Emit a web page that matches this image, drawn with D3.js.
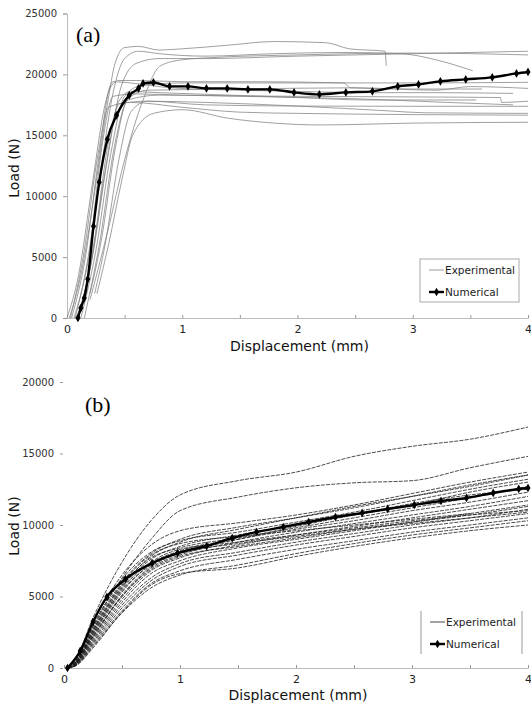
<!DOCTYPE html>
<html>
<head>
<meta charset="utf-8">
<script src="https://cdn.jsdelivr.net/npm/d3@7"></script>
<style>
  body { margin: 0; background: #fff; }
  text { font-family: "DejaVu Sans", Verdana, sans-serif; }
</style>
</head>
<body>
<div id="chart"></div>
<script>
// ---- data (a) ----
var topNumD = [0.095, 0.12, 0.15, 0.18, 0.23, 0.28, 0.35, 0.43, 0.54, 0.62, 0.66, 0.75, 0.89, 1.05, 1.21, 1.39, 1.57, 1.76, 1.97, 2.19, 2.42, 2.65, 2.87, 3.05, 3.24, 3.46, 3.69, 3.9, 4.0];
var topNumLoad = [0, 820, 1640, 3200, 7540, 11150, 14670, 16640, 18280, 18850, 19260, 19340, 19020, 19020, 18850, 18850, 18770, 18770, 18520, 18360, 18520, 18610, 19020, 19180, 19430, 19590, 19760, 20080, 20200];

var topExperimental = [
  [[0.02,0],[0.12,3500],[0.25,11000],[0.35,17500],[0.42,21000],[0.5,22200],[0.62,22300],[0.8,22000],[1.0,22100],[1.4,22400],[1.8,22700],[2.25,22600],[2.45,22100],[2.76,21900],[2.77,20700]],
  [[0.06,0],[0.18,4500],[0.3,12500],[0.4,18500],[0.5,21300],[0.62,21900],[0.8,21700],[1.2,21500],[1.8,21700],[2.4,21800],[2.9,21700],[3.2,21200],[3.52,20300]],
  [[0.2,1500],[0.35,7000],[0.5,13000],[0.66,17900],[0.81,20700],[1.0,21200],[1.3,21400],[2.0,21600],[3.0,21750],[4.0,21600]],
  [[0.1,0],[0.22,5000],[0.35,13000],[0.47,19000],[0.6,20900],[0.8,21300],[1.2,21300],[2.0,21500],[3.0,21700],[4.0,21900]],
  [[0.04,0],[0.16,5000],[0.28,13500],[0.37,18800],[0.45,19500],[0.6,19500],[1.0,19400],[1.6,19400],[2.4,19300],[2.46,18900],[3.0,18800],[3.6,18800]],
  [[0.12,0],[0.25,5500],[0.38,13500],[0.5,18200],[0.65,19100],[1.0,19300],[2.0,19300],[3.0,19300],[4.0,19350]],
  [[0.2,2000],[0.3,6500],[0.42,14000],[0.53,18000],[0.7,18700],[1.5,18800],[2.5,18900],[3.2,18700],[3.5,19000],[4.0,18850]],
  [[0.07,0],[0.2,6000],[0.31,14500],[0.4,18200],[0.6,18400],[1.0,18300],[2.0,18200],[3.0,18150],[3.76,18100],[3.77,17700],[4.0,17800]],
  [[0.15,0],[0.28,6000],[0.42,14500],[0.53,17900],[0.8,18300],[1.5,18200],[2.5,18000],[3.3,17700],[3.87,17500]],
  [[0.1,0],[0.24,6500],[0.36,14500],[0.46,17600],[0.7,17800],[1.2,17500],[2.0,17400],[3.0,17380],[4.0,17380]],
  [[0.24,2000],[0.33,6000],[0.45,13000],[0.56,17000],[0.7,17800],[1.2,17700],[2.0,17400],[2.8,17000],[3.1,16850],[4.0,16800]],
  [[0.03,0],[0.14,5000],[0.27,13500],[0.36,17300],[0.55,17700],[1.0,17300],[1.5,16900],[2.0,16800],[3.0,16700],[4.0,16650]],
  [[0.26,2000],[0.36,6000],[0.48,11500],[0.57,15000],[0.75,16800],[1.0,17100],[1.4,16400],[1.8,16000],[2.2,15850],[3.0,16000],[4.0,16070]],
  [[0.0,0],[0.1,3500],[0.22,11000],[0.33,17500],[0.4,19400],[0.55,19300],[0.9,18900],[1.5,18700],[2.0,18600],[2.6,18500],[3.2,18500],[3.87,18440]],
  [[0.08,0],[0.2,4000],[0.33,12000],[0.45,17800],[0.55,18600],[0.8,18500],[1.4,18300],[2.0,18100],[2.6,17900],[3.0,17900],[3.55,17900]]
];

// ---- data (b) ----
var botNumD = [0.03, 0.14, 0.25, 0.37, 0.53, 0.76, 0.98, 1.23, 1.45, 1.66, 1.89, 2.11, 2.34, 2.57, 2.79, 3.02, 3.25, 3.47, 3.7, 3.92, 4.0];
var botNumLoad = [0, 1190, 3220, 4970, 6220, 7340, 8040, 8530, 9090, 9510, 9860, 10210, 10560, 10840, 11120, 11400, 11680, 11890, 12240, 12520, 12590];

var botExpD = [0.04, 0.1, 0.25, 0.5, 0.75, 1.0, 1.5, 2.0, 2.5, 3.0, 3.5, 4.0];
var botExpLoad = [
  [0, 600, 3500, 7400, 10300, 12100, 13100, 13700, 14800, 15500, 16000, 16850],
  [0, 500, 3000, 6300, 9000, 11000, 11950, 12600, 12950, 13100, 14000, 14800],
  [0, 500, 3200, 6500, 8600, 9600, 10150, 10700, 11400, 12200, 13000, 13700],
  [0, 400, 2800, 6000, 8000, 9000, 9850, 10500, 11200, 12000, 12800, 13500],
  [0, 450, 2900, 6200, 8100, 8900, 9500, 10200, 10900, 11700, 12500, 13200],
  [0, 350, 2500, 5600, 7600, 8500, 9300, 10000, 10700, 11400, 12300, 13000],
  [0, 400, 2700, 5800, 7700, 8400, 9100, 9800, 10500, 11200, 11900, 12700],
  [0, 300, 2300, 5300, 7300, 8200, 9000, 9700, 10300, 11000, 11600, 12300],
  [0, 300, 2200, 5000, 7000, 7900, 8800, 9500, 10100, 10700, 11300, 12000],
  [0, 250, 2000, 4800, 6800, 7700, 8600, 9300, 9900, 10500, 11100, 11700],
  [0, 250, 1900, 4600, 6600, 7500, 8400, 9000, 9600, 10200, 10800, 11400],
  [0, 200, 1800, 4400, 6300, 7300, 8100, 8800, 9400, 10000, 10500, 11100],
  [0, 200, 1700, 4200, 6100, 7100, 7900, 8600, 9200, 9800, 10300, 10800],
  [0, 200, 1600, 4000, 5900, 6800, 7600, 8300, 8900, 9500, 10000, 10500],
  [0, 150, 1500, 3850, 5600, 6500, 7200, 8000, 8700, 9300, 9800, 10300],
  [0, 150, 1400, 3900, 5800, 6600, 7000, 7800, 8500, 9100, 9600, 10000],
  [0, 350, 2600, 5900, 7900, 8700, 9200, 9600, 10000, 10400, 10800],
  [0, 300, 2400, 5500, 7400, 8300, 8800, 9300, 9800, 10300, 10700, 11000],
  [0, 400, 2600, 5700, 7800, 8800, 9700, 10500, 11300, 12000, 12700, 13500],
  [0, 300, 2200, 5100, 7100, 8000, 8700, 9200, 9700, 10100, 10500, 10900],
  [0, 250, 2100, 5000, 6900, 7800, 8500, 9100, 9700, 10200, 10700, 11300],
  [0, 350, 2400, 5400, 7200, 8100, 9000, 9900, 10700, 11500, 12100, 12500]
];

var xTicks = [0, 0.5, 1, 1.5, 2, 2.5, 3, 3.5, 4];
var topYTicks = [0, 5000, 10000, 15000, 20000, 25000];
var botYTicks = [0, 5000, 10000, 15000, 20000];
var legendLabels = ["Experimental", "Numerical"];

var svg = d3.select("#chart").append("svg")
    .attr("width", 531)
    .attr("height", 705)
    .style("background", "#fff");

function drawPanel(opt) {
    var x = d3.scaleLinear().domain([0, 4]).range([opt.x0, opt.x1]);
    var y = d3.scaleLinear().domain([0, opt.yMax]).range([opt.y0, opt.y1]);
    var g = svg.append("g");

    // y axis
    var ya = g.append("g")
        .attr("transform", "translate(" + (opt.x0 + opt.yAxisShift) + ",0)")
        .call(d3.axisLeft(y).tickValues(opt.yTicks).tickSize(opt.yTickSize).tickPadding(opt.yPad).tickFormat(d3.format("d")));
    ya.select(".domain").attr("stroke", opt.showYLine ? "#bbb" : "none");
    ya.selectAll(".tick line").attr("stroke", "#999");
    ya.selectAll(".tick text").attr("font-size", 10).attr("fill", "#333")
        .attr("font-family", "DejaVu Sans, sans-serif");

    // x axis
    var xa = g.append("g")
        .attr("transform", "translate(0," + opt.y0 + ")")
        .call(d3.axisBottom(x).tickValues(xTicks).tickSize(-3).tickPadding(7)
            .tickFormat(function(d){ return Number.isInteger(d) ? d : ""; }));
    xa.select(".domain").attr("stroke", "#bbb");
    xa.selectAll(".tick line").attr("stroke", "#999");
    xa.selectAll(".tick text").attr("font-size", 11).attr("fill", "#222")
        .attr("font-family", "DejaVu Sans, sans-serif");

    // titles
    g.append("text")
        .text("Displacement (mm)")
        .attr("x", (opt.x0 + opt.x1) / 2 + 2)
        .attr("y", opt.xTitleY)
        .attr("text-anchor", "middle")
        .attr("font-size", 14)
        .attr("fill", "#111");
    g.append("text")
        .text("Load (N)")
        .attr("transform", "translate(19," + opt.yTitleY + ") rotate(-90)")
        .attr("text-anchor", "middle")
        .attr("font-size", 14)
        .attr("fill", "#111");
    g.append("text")
        .text(opt.tag)
        .attr("x", opt.tagX)
        .attr("y", opt.tagY)
        .attr("font-size", 22)
        .style("font-family", "Liberation Serif, serif")
        .attr("fill", "#000");

    return {g: g, x: x, y: y};
}

// ---- panel (a) ----
var pa = drawPanel({x0: 67, x1: 528, y0: 318, y1: 13.5, yMax: 25000, yTicks: topYTicks,
    yAxisShift: 0, yTickSize: 4, yPad: 6, showYLine: true,
    xTitleY: 351, yTitleY: 168, tag: "(a)", tagX: 76, tagY: 42});

var lineA = d3.line()
    .x(function(d){ return pa.x(d[0]); })
    .y(function(d){ return pa.y(d[1]); })
    .curve(d3.curveMonotoneX);

pa.g.selectAll(".expA").data(topExperimental).enter().append("path")
    .attr("class", "expA")
    .attr("d", lineA)
    .attr("fill", "none")
    .attr("stroke", "#808080")
    .attr("stroke-width", 0.75);

var numA = topNumD.map(function(d, i){ return [d, topNumLoad[i]]; });
pa.g.append("path")
    .attr("d", lineA(numA))
    .attr("fill", "none")
    .attr("stroke", "#000")
    .attr("stroke-width", 2.4);
pa.g.selectAll(".mA").data(numA).enter().append("path")
    .attr("class", "mA")
    .attr("transform", function(d){ return "translate(" + pa.x(d[0]) + "," + pa.y(d[1]) + ")"; })
    .attr("d", d3.symbol(d3.symbolDiamond, 22))
    .attr("fill", "#000");

// ---- panel (b) ----
var pb = drawPanel({x0: 64, x1: 528, y0: 668, y1: 382, yMax: 20000, yTicks: botYTicks,
    yAxisShift: -1, yTickSize: 3, yPad: 6, showYLine: false,
    xTitleY: 700, yTitleY: 526, tag: "(b)", tagX: 85, tagY: 412});

var lineB = d3.line()
    .x(function(d){ return pb.x(d[0]); })
    .y(function(d){ return pb.y(d[1]); })
    .curve(d3.curveMonotoneX);

pb.g.selectAll(".expB").data(botExpLoad).enter().append("path")
    .attr("class", "expB")
    .attr("d", function(s){ return lineB(s.map(function(v, i){ return [botExpD[i], v]; })); })
    .attr("fill", "none")
    .attr("stroke", "#1e1e1e")
    .attr("stroke-width", 0.8)
    .attr("stroke-dasharray", "4,1.2");

var numB = botNumD.map(function(d, i){ return [d, botNumLoad[i]]; });
pb.g.append("path")
    .attr("d", lineB(numB))
    .attr("fill", "none")
    .attr("stroke", "#000")
    .attr("stroke-width", 2.4);
pb.g.selectAll(".mB").data(numB).enter().append("path")
    .attr("class", "mB")
    .attr("transform", function(d){ return "translate(" + pb.x(d[0]) + "," + pb.y(d[1]) + ")"; })
    .attr("d", d3.symbol(d3.symbolDiamond, 22))
    .attr("fill", "#000");

// ---- legends ----
function legend(x, y, w, h, fullBox, expColor) {
    var lg = svg.append("g").attr("transform", "translate(" + x + "," + y + ")");
    if (fullBox) {
        lg.append("rect").attr("width", w).attr("height", h)
            .attr("fill", "#fff").attr("stroke", "#aaa").attr("stroke-width", 1);
    } else {
        lg.append("rect").attr("width", w).attr("height", h).attr("fill", "#fff");
        lg.append("line").attr("x1", 0).attr("x2", 0).attr("y1", 0).attr("y2", h).attr("stroke", "#999");
        lg.append("line").attr("x1", w).attr("x2", w).attr("y1", 0).attr("y2", h).attr("stroke", "#999");
    }
    legendLabels.forEach(function(lab, i) {
        var ly = 11 + i * 22;
        lg.append("line")
            .attr("x1", 9).attr("x2", 24).attr("y1", ly).attr("y2", ly)
            .attr("stroke", i == 0 ? expColor : "#000")
            .attr("stroke-width", i == 0 ? 1.2 : 2.4);
        if (i == 1) {
            lg.append("path").attr("transform", "translate(16.5," + ly + ")")
                .attr("d", d3.symbol(d3.symbolDiamond, 22)).attr("fill", "#000");
        }
        lg.append("text").text(lab)
            .attr("x", 25).attr("y", ly + 4)
            .attr("font-size", 10.5)
            .attr("fill", "#222");
    });
}
legend(420, 259, 99, 43, true, "#aaa");
legend(421, 611, 101, 43, false, "#666");
</script>
</body>
</html>
